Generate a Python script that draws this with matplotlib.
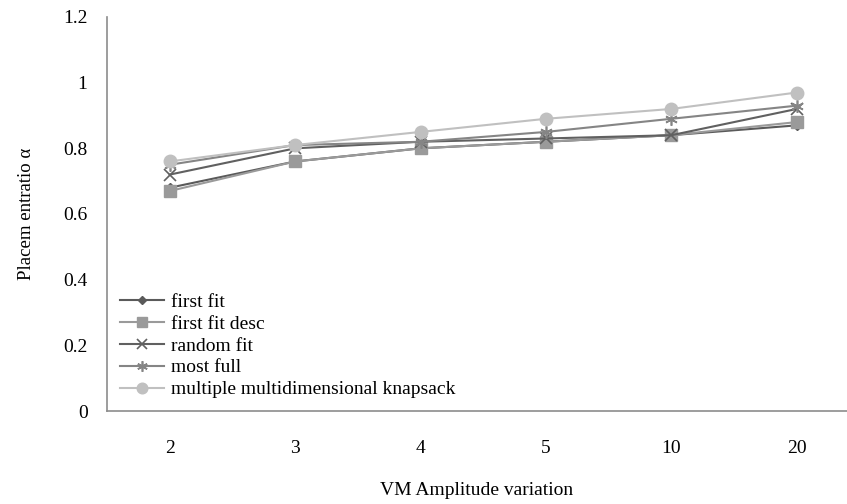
import matplotlib.pyplot as plt

# Data
categories = ["2", "3", "4", "5", "10", "20"]
first_fit = [0.68, 0.76, 0.80, 0.82, 0.84, 0.87]
first_fit_desc = [0.67, 0.76, 0.80, 0.82, 0.84, 0.88]
random_fit = [0.72, 0.80, 0.82, 0.83, 0.84, 0.92]
most_full = [0.75, 0.81, 0.82, 0.85, 0.89, 0.93]
mmk = [0.76, 0.81, 0.85, 0.89, 0.92, 0.97]

plt.rcParams['font.family'] = ['Liberation Serif', 'DejaVu Serif']

fig = plt.figure(figsize=(8.47, 5.04), dpi=100)
ax = fig.add_axes([107 / 847, 93 / 504, 740 / 847, 394 / 504])

x = list(range(len(categories)))

ax.plot(x, first_fit, color="#5a5a5a", marker="D", markersize=5, linewidth=1.5, label="first fit")
ax.plot(x, first_fit_desc, color="#9a9a9a", marker="s", markersize=8, linewidth=1.5, label="first fit desc")
ax.plot(x, random_fit, color="#606060", marker="x", markersize=9, markeredgewidth=1.2,
        linewidth=1.5, label="random fit")
ax.plot(x, most_full, color="#858585", marker=(6, 2, 0), markersize=9, markeredgewidth=1.2,
        linewidth=1.5, label="most full")
ax.plot(x, mmk, color="#c0c0c0", marker="o", markersize=9, linewidth=1.5,
        label="multiple multidimensional knapsack")

ax.set_xlim(-0.5, 5.4)
ax.set_ylim(0, 1.2)
ax.set_xticks(x)
ax.set_xticklabels(categories)
ax.set_yticks([0, 0.2, 0.4, 0.6, 0.8, 1.0, 1.2])
ax.set_yticklabels(["0", "0.2", "0.4", "0.6", "0.8", "1", "1.2"])
ax.tick_params(axis="x", length=0, pad=21, labelsize=14)
ax.tick_params(axis="y", length=0, pad=14, labelsize=14)

for side in ["top", "right"]:
    ax.spines[side].set_visible(False)
for side in ["left", "bottom"]:
    ax.spines[side].set_color("#8c8c8c")
    ax.spines[side].set_linewidth(1.2)

ax.set_xlabel("VM Amplitude variation", fontsize=14, labelpad=18)
ax.set_ylabel("Placem entratio α", fontsize=13.5, labelpad=20)

ax.legend(loc="lower left", bbox_to_anchor=(0.0, 0.0), frameon=False, fontsize=14,
          handlelength=2.3, labelspacing=0.22, borderaxespad=0.25, handletextpad=0.35,
          markerscale=0.85)

fig.savefig("out.png", dpi=100)
